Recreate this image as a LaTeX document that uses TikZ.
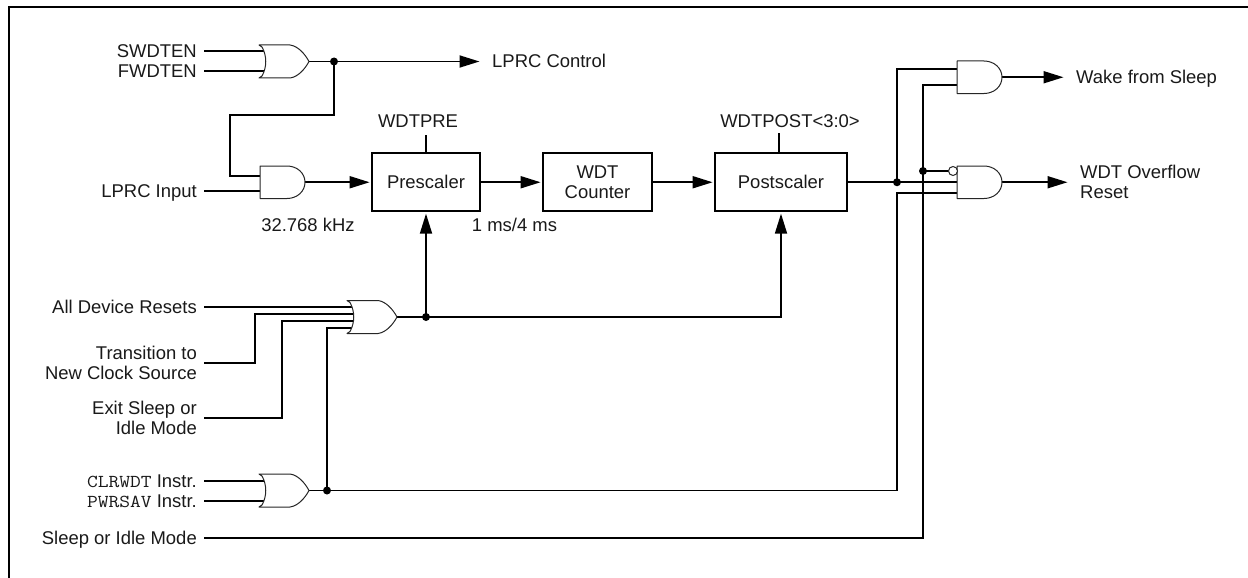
\documentclass[tikz,border=0pt]{standalone}
\usepackage{fontspec}
\setmainfont{Liberation Sans}
\newfontfamily\cwfont[FakeStretch=1.15]{Latin Modern Mono}
\usetikzlibrary{arrows.meta}
\pgfdeclarelayer{bg}
\pgfsetlayers{bg,main}
\newcommand\cwtext[1]{{\fontsize{18.2}{20}\cwfont #1}}
\tikzset{
  x=1pt,y=-1pt,
  txt/.style={font=\fontsize{18.45}{20}\selectfont,text=black!90,inner xsep=0pt,inner ysep=0pt},
  oneline/.style={text height=13pt,text depth=0pt},
  lablft/.style={txt,anchor=east,inner xsep=7pt,align=right},
  labrgt/.style={txt,anchor=west,inner xsep=11pt,align=left},
  free/.style={txt,oneline,anchor=center,align=center},
  topl/.style={txt,oneline,anchor=center},
  blockbox/.style={draw=black,line width=1.8pt,inner sep=0pt,font=\fontsize{18.45}{20}\selectfont,text=black!90,align=center},
  wire/.style={draw=black,line width=1.8pt,line join=miter},
  arr/.style={wire,-{Triangle[length=20pt,width=12pt]},shorten >=1.5pt},
  gateline/.style={draw=black!85,line width=1pt,fill=white,line join=round},
  gatebox/.style={inner sep=0pt,minimum width=#1,minimum height=32pt},
  jdot/.style={circle,fill=black,inner sep=0pt,minimum size=8pt},
  bub/.style={circle,draw=black!85,line width=1pt,fill=white,inner sep=0pt,minimum size=9pt}
}
\newcommand\andgate[3]{\begin{scope}[shift={(#2,#3)}]
  \draw[gateline] (0,0) -- (27,0) .. controls (37,0) and (45,7) .. (45,16.25) .. controls (45,25.5) and (37,32.5) .. (27,32.5) -- (0,32.5) -- cycle;
  \node[gatebox=45pt] (#1) at (22.5,16.25) {};
\end{scope}}
\newcommand\orgate[3]{\begin{scope}[shift={(#2,#3)}]
  \draw[gateline] (0,0) -- (31,0) .. controls (39,1) and (46,9) .. (50,16.5) .. controls (46,24) and (39,32) .. (31,33) -- (0,33) -- (3,31) .. controls (8,22) and (8,11) .. (3,2) -- cycle;
  \node[gatebox=50pt] (#1) at (25,16.5) {};
\end{scope}}
\begin{document}
\begin{tikzpicture}
\useasboundingbox (0,0) rectangle (1248,578);
% frame
\draw[line width=2pt,black] (9,578) -- (9,7.5) -- (1248,7.5);
% gates
\orgate{gA}{259}{45}
\andgate{gB}{260}{166}
\orgate{gC}{347}{300.5}
\orgate{gD}{259}{474}
\andgate{gE}{957}{61}
\andgate{gF}{957}{166}
% blocks
\node[blockbox,minimum width=108pt,minimum height=58pt] (pre) at (426,182.25) {Prescaler};
\node[blockbox,minimum width=109pt,minimum height=58pt] (cnt) at (597.5,182.25) {WDT\\Counter};
\node[blockbox,minimum width=132pt,minimum height=58pt] (post) at (781,182.25) {Postscaler};
% left labels
\node[lablft,oneline] (lSW) at (204,51) {SWDTEN};
\node[lablft,oneline] (lFW) at (204,71) {FWDTEN};
\node[lablft,oneline] (lLP) at (204,191) {LPRC Input};
\node[lablft,oneline] (lAD) at (204,307) {All Device Resets};
\node[lablft] (lTR) at (204,363) {Transition to\\New Clock Source};
\node[lablft] (lEX) at (204,418) {Exit Sleep or\\Idle Mode};
\node[lablft,oneline] (lCL) at (204,481) {\cwtext{CLRWDT} Instr.};
\node[lablft,oneline] (lPW) at (204,501) {\cwtext{PWRSAV} Instr.};
\node[lablft,oneline] (lSL) at (204,538) {Sleep or Idle Mode};
% right labels
\node[labrgt,oneline] (rLC) at (481,61.5) {LPRC Control};
\node[labrgt,oneline] (rWK) at (1065,77.25) {Wake from Sleep};
\node[labrgt] (rOV) at (1069,182.25) {WDT Overflow\\Reset};
% free labels
\node[free] (tKHZ) at (308,225) {32.768 kHz};
\node[free] (tMS) at (514.5,225) {1 ms/4 ms};
\node[topl] (tPRE) at (418,120.5) {WDTPRE};
\node[topl] (tPOST) at (790,120.5) {WDTPOST<3:0>};
% junctions
\node[jdot] (dA) at (334,61.5) {};
\node[jdot] (dC) at (426,317) {};
\node[jdot] (dD) at (327,490.5) {};
\node[jdot] (dP) at (897,182.25) {};
\node[jdot] (dS) at (923,171) {};
\node[bub] (nF) at (953,171) {};
% bends
\coordinate (bA1) at (230,115);
\coordinate (bA2) at (230,176);
\coordinate (bT) at (255,314);
\coordinate (bE) at (282,321);
\coordinate (bD) at (327,328);
\coordinate (bP) at (897,69);
\coordinate (bQ) at (897,193);
\coordinate (bR) at (897,490.5);
\coordinate (bS) at (923,85);
\coordinate (bSb) at (923,538);
\coordinate (sPre) at (426,135);
\coordinate (sPost) at (779,133);
\begin{pgfonlayer}{bg}
\draw[wire] (lSW.east) -- (lSW.east -| gA.center);
\draw[wire] (lFW.east) -- (lFW.east -| gA.center);
\draw[wire] (gA.center) -- (dA.center);
\draw[arr] (dA.center) -- (rLC.west);
\draw[wire] (dA.center) |- (bA1) -- (bA2) -- (bA2 -| gB.center);
\draw[wire] (lLP.east) -- (lLP.east -| gB.center);
\draw[arr] (gB.center) -- (gB.center -| pre.west);
\draw[arr] (pre.east) -- (cnt.west);
\draw[arr] (cnt.east) -- (post.west);
\draw[wire] (sPre) -- (pre.north);
\draw[wire] (sPost) -- (sPost |- post.north);
\draw[wire] (post.east) -- (dP.center);
\draw[wire] (dP.center) -- (dP.center -| gF.center);
\draw[wire] (dP.center) |- (gE.center |- bP);
\draw[wire] (lAD.east) -- (lAD.east -| gC.center);
\draw[wire] (lTR.east) -| (bT) -- (bT -| gC.center);
\draw[wire] (lEX.east) -| (bE) -- (bE -| gC.center);
\draw[wire] (dD.center) -- (bD) -- (bD -| gC.center);
\draw[wire] (gC.center) -- (dC.center);
\draw[arr] (dC.center) -- (pre.south);
\draw[arr] (dC.center) -| (post.south);
\draw[wire] (lCL.east) -- (lCL.east -| gD.center);
\draw[wire] (lPW.east) -- (lPW.east -| gD.center);
\draw[wire] (gD.center) -- (dD.center);
\draw[wire] (dD.center) -- (bR) -- (bQ) -- (bQ -| gF.center);
\draw[wire] (lSL.east) -- (bSb) -- (bS) -- (bS -| gE.center);
\draw[wire] (dS.center) -- (nF.center);
\draw[arr] (gE.center) -- (rWK.west);
\draw[arr] (gF.center) -- (rOV.west);
\end{pgfonlayer}
\end{tikzpicture}
\end{document}
